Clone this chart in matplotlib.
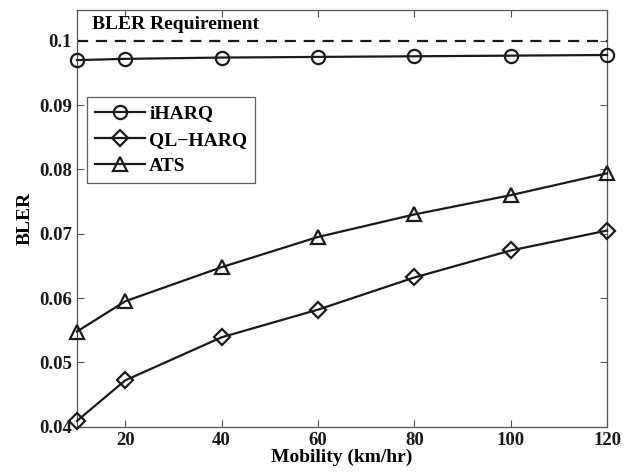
import matplotlib.pyplot as plt

mobility = [10, 20, 40, 60, 80, 100, 120]
iharq = [0.0970, 0.0972, 0.0974, 0.0975, 0.0976, 0.0977, 0.0978]
qlharq = [0.0409, 0.0472, 0.0539, 0.0582, 0.0632, 0.0674, 0.0705]
ats = [0.0548, 0.0595, 0.0648, 0.0695, 0.0730, 0.0760, 0.0794]
requirement = 0.1

plt.rcParams['font.family'] = ['Liberation Serif', 'DejaVu Serif']
plt.rcParams['font.weight'] = 'bold'

fig = plt.figure(figsize=(6.33, 4.73), dpi=100)
ax = fig.add_axes([0.1216, 0.0979, 0.8374, 0.881])

col = '#1a1a1a'
style = dict(color=col, lw=1.6, markersize=9.5, markerfacecolor='none',
             markeredgewidth=1.6, clip_on=False, zorder=3)
ax.plot(mobility, iharq, marker='o', label='iHARQ', **style)
ax.plot(mobility, qlharq, marker='D', label='QL\u2212HARQ',
        **{**style, 'markersize': 8})
ax.plot(mobility, ats, marker='^', label='ATS', **{**style, 'markersize': 10.5})
ax.axhline(requirement, color=col, lw=1.6, ls=(0, (5, 3.5)))
ax.text(13.1, 0.1026, 'BLER Requirement', fontsize=14, fontweight='bold',
        va='center', ha='left')

ax.set_xlim(10, 120)
ax.set_ylim(0.04, 0.1048)
ax.set_xticks([20, 40, 60, 80, 100, 120])
ax.set_yticks([0.04, 0.05, 0.06, 0.07, 0.08, 0.09, 0.1])
ax.set_yticklabels(['0.04', '0.05', '0.06', '0.07', '0.08', '0.09', '0.1'])
ax.tick_params(direction='in', top=True, right=True, labelsize=13.5,
               length=5, width=0.8, colors='#555555', labelcolor=col)
for s in ax.spines.values():
    s.set_color('#555555')
    s.set_linewidth(0.9)
ax.set_xlabel('Mobility (km/hr)', fontsize=14, fontweight='bold', labelpad=0)
ax.set_ylabel('BLER', fontsize=14, fontweight='bold', labelpad=4)

leg = ax.legend(loc='upper left', bbox_to_anchor=(0.019, 0.791), fontsize=14,
                frameon=True, fancybox=False, edgecolor='#333333',
                handlelength=2.6, borderpad=0.4, labelspacing=0.45,
                handletextpad=0.2, borderaxespad=0)
leg.get_frame().set_linewidth(0.9)
for t in leg.get_texts():
    t.set_fontweight('bold')

fig.savefig('out.png', dpi=100)
